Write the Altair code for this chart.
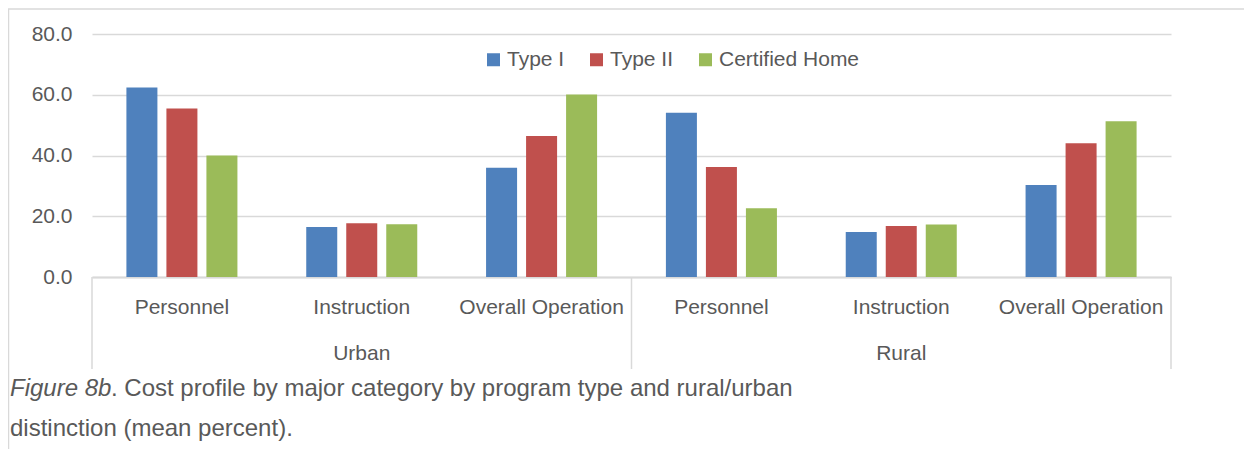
import altair as alt
import pandas as pd

# ---- data ----
regions = ["Urban", "Rural"]
categories = ["Personnel", "Instruction", "Overall Operation"]
types = ["Type I", "Type II", "Certified Home"]
colors = ["#4F81BD", "#C0504D", "#9BBB59"]

# values in order Urban(Personnel, Instruction, Overall), Rural(Personnel, Instruction, Overall)
type_i = [62.4, 16.5, 36.0, 54.1, 14.8, 30.3]
type_ii = [55.5, 17.7, 46.4, 36.2, 16.8, 44.0]
certified = [40.0, 17.4, 60.1, 22.6, 17.3, 51.3]

y_ticks = [0, 20, 40, 60, 80]
caption_italic = "Figure 8b"
caption_line1 = ". Cost profile by major category by program type and rural/urban"
caption_line2 = "distinction (mean percent)."

# ---- tables ----
keys = [f"{r}|{c}" for r in regions for c in categories]
series = {"Type I": type_i, "Type II": type_ii, "Certified Home": certified}
rows = []
for t in types:
    for k, v in zip(keys, series[t]):
        rows.append({"key": k, "type": t, "value": v})
bars_df = pd.DataFrame(rows)

cat_df = pd.DataFrame({"key": keys, "label": [k.split("|")[1] for k in keys]})
reg_df = pd.DataFrame({"key": [f"{r}|Instruction" for r in regions], "label": regions})
sep_left_df = pd.DataFrame({"key": [f"{r}|Personnel" for r in regions]})
sep_right_df = pd.DataFrame({"key": [f"{regions[-1]}|Overall Operation"]})

FONT = "Liberation Sans"
TXT = "#595959"
GRID = "#d9d9d9"
W, H = 1079, 243

x_scale = alt.Scale(paddingInner=0, paddingOuter=0)
x_enc = alt.X("key:N", sort=keys, scale=x_scale, title=None,
              axis=alt.Axis(labels=False, ticks=False, grid=False, domain=True,
                            domainColor=GRID, domainWidth=2))

bars = alt.Chart(bars_df).mark_bar().encode(
    x=x_enc,
    xOffset=alt.XOffset("type:N", sort=types,
                        scale=alt.Scale(paddingInner=0.225, paddingOuter=0.86)),
    y=alt.Y("value:Q", scale=alt.Scale(domain=[0, 80], nice=False), title=None,
            axis=alt.Axis(values=y_ticks, format=".1f", grid=True, gridColor=GRID,
                          gridWidth=1.5, domain=False, ticks=False, labelFontSize=21,
                          labelColor=TXT, labelFont=FONT, labelPadding=20)),
    color=alt.Color("type:N", sort=types,
                    scale=alt.Scale(domain=types, range=colors),
                    legend=alt.Legend(title=None, orient="none", legendX=391, legendY=15,
                                      direction="horizontal", symbolType="square",
                                      symbolSize=169, symbolStrokeWidth=0,
                                      labelFontSize=21, labelFont=FONT, labelColor=TXT,
                                      labelOffset=3, columnPadding=21, padding=0)),
)

cat_labels = alt.Chart(cat_df).mark_text(
    font=FONT, fontSize=21, color=TXT, baseline="middle", align="center"
).encode(x=alt.X("key:N", sort=keys), y=alt.value(H + 31), text="label:N")

reg_labels = alt.Chart(reg_df).mark_text(
    font=FONT, fontSize=21, color=TXT, baseline="middle", align="center"
).encode(x=alt.X("key:N", sort=keys), y=alt.value(H + 77), text="label:N")

sep_left = alt.Chart(sep_left_df).mark_rule(color=GRID, strokeWidth=1.5).encode(
    x=alt.X("key:N", sort=keys, bandPosition=0), y=alt.value(H), y2=alt.value(H + 92))
sep_right = alt.Chart(sep_right_df).mark_rule(color=GRID, strokeWidth=1.5).encode(
    x=alt.X("key:N", sort=keys, bandPosition=1), y=alt.value(H), y2=alt.value(H + 92))

CAP_X = -82
cap_df = pd.DataFrame({"a": [caption_italic], "b": [caption_line1], "c": [caption_line2]})
cap_it = alt.Chart(cap_df).mark_text(
    font=FONT, fontSize=24, color=TXT, fontStyle="italic", align="left", baseline="middle"
).encode(x=alt.value(CAP_X), y=alt.value(355), text="a:N")
cap_1 = alt.Chart(cap_df).mark_text(
    font=FONT, fontSize=24, color=TXT, align="left", baseline="middle"
).encode(x=alt.value(CAP_X + 101), y=alt.value(355), text="b:N")
cap_2 = alt.Chart(cap_df).mark_text(
    font=FONT, fontSize=24, color=TXT, align="left", baseline="middle"
).encode(x=alt.value(CAP_X), y=alt.value(395), text="c:N")

frame_df = pd.DataFrame({"f": ["frame"]})
frame_top = alt.Chart(frame_df).mark_rule(color=GRID, strokeWidth=1.5).encode(
    x=alt.value(-84), x2=alt.value(1160), y=alt.value(-25))
frame_left = alt.Chart(frame_df).mark_rule(color=GRID, strokeWidth=1.5).encode(
    x=alt.value(-83.5), y=alt.value(-25), y2=alt.value(420))

chart = alt.layer(
    frame_top, frame_left, bars, sep_left, sep_right, cat_labels, reg_labels,
    cap_it, cap_1, cap_2
).resolve_scale(x="shared").properties(
    width=W, height=H,
    autosize=alt.AutoSizeParams(type="none"),
    padding={"left": 84, "top": 26, "right": 73, "bottom": 172},
    background="white",
).configure_view(stroke=None)

chart.save("out.html", embed_options={"renderer": "svg", "actions": False})
